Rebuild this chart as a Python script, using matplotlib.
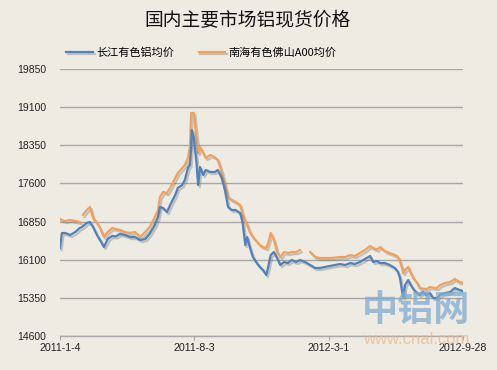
import numpy as np
import pandas as pd
import matplotlib
matplotlib.use("Agg")
import matplotlib.pyplot as plt
import matplotlib.patheffects as pe

plt.rcParams['font.family'] = ['Liberation Sans', 'Noto Sans CJK SC', 'DejaVu Sans']

# ---------------------------------------------------------
# DATA
# ---------------------------------------------------------
dates = [
    "2011-01-04", "2011-01-07", "2011-01-12", "2011-01-20", "2011-01-28", "2011-02-04",
    "2011-02-07", "2011-02-09", "2011-02-15", "2011-02-20", "2011-02-25", "2011-03-03",
    "2011-03-08", "2011-03-14", "2011-03-20", "2011-03-27", "2011-04-02", "2011-04-08",
    "2011-04-16", "2011-04-24", "2011-05-02", "2011-05-10", "2011-05-18", "2011-05-25",
    "2011-06-02", "2011-06-07", "2011-06-10", "2011-06-15", "2011-06-21", "2011-06-26",
    "2011-07-04", "2011-07-08", "2011-07-15", "2011-07-19", "2011-07-24", "2011-07-27",
    "2011-07-29", "2011-07-30", "2011-08-02", "2011-08-06", "2011-08-09", "2011-08-12",
    "2011-08-17", "2011-08-21", "2011-08-28", "2011-09-04", "2011-09-09", "2011-09-15",
    "2011-09-20", "2011-09-25", "2011-10-01", "2011-10-07", "2011-10-14", "2011-10-18",
    "2011-10-22", "2011-10-25", "2011-10-29", "2011-11-03", "2011-11-08", "2011-11-14",
    "2011-11-19", "2011-11-24", "2011-11-27", "2011-12-01", "2011-12-06", "2011-12-11",
    "2011-12-16", "2011-12-22", "2011-12-28", "2012-01-03", "2012-01-10", "2012-01-16",
    "2012-01-24", "2012-02-01", "2012-02-09", "2012-02-16", "2012-02-24", "2012-03-03",
    "2012-03-11", "2012-03-19", "2012-03-27", "2012-04-04", "2012-04-11", "2012-04-19",
    "2012-04-27", "2012-05-05", "2012-05-10", "2012-05-16", "2012-05-21", "2012-05-28",
    "2012-06-05", "2012-06-13", "2012-06-18", "2012-06-21", "2012-06-24", "2012-06-26",
    "2012-06-29", "2012-07-04", "2012-07-08", "2012-07-13", "2012-07-18", "2012-07-22",
    "2012-07-27", "2012-08-02", "2012-08-07", "2012-08-12", "2012-08-18", "2012-08-23",
    "2012-08-31", "2012-09-08", "2012-09-15", "2012-09-23", "2012-09-28",
]

changjiang = [
    16330, 16625, 16626, 16586, 16645, 16723,
    16740, 16760, 16822, 16841, 16743, 16586,
    16487, 16350, 16507, 16566, 16560, 16605,
    16586, 16546, 16546, 16487, 16507, 16610,
    16782, 16940, 17136, 17117, 17038, 17176,
    17372, 17510, 17569, 17667, 17903, 17962,
    18300, 18650, 18513, 18060, 17569, 17923,
    17766, 17864, 17825, 17825, 17864, 17707,
    17471, 17136, 17077, 17077, 17018, 16822,
    16389, 16546, 16350, 16153, 16055, 15956,
    15897, 15799, 15956, 16192, 16251, 16133,
    15996, 16055, 16035, 16094, 16055, 16094,
    16055, 15996, 15937, 15937, 15956, 15976,
    15996, 16015, 15996, 16035, 16015, 16055,
    16114, 16173, 16055, 16074, 16035, 16035,
    15996, 15937, 15858, 15740, 15504, 15366,
    15602, 15701, 15602, 15504, 15445, 15406,
    15465, 15406, 15445, 15347, 15347, 15406,
    15445, 15465, 15543, 15504, 15484,
]

nanhai = [
    16900, 16880, 16861, 16881, 16861, 16841,
    np.nan, 16979, 17077, 17136, 16920, 16822,
    16723, 16546, 16645, 16723, 16703, 16684,
    16645, 16625, 16645, 16546, 16645, 16743,
    16940, 17077, 17333, 17431, 17412, 17510,
    17707, 17805, 17903, 17962, 18100, 18316,
    18985, 18985, 18985, 18550, 18198, 18316,
    18198, 18100, 18159, 18119, 18060, 17825,
    17569, 17333, 17274, 17235, 17176, 16979,
    16861, 16782, 16645, 16546, 16470, 16389,
    16350, 16330, 16428, 16625, 16487, 16251,
    16153, 16251, 16232, 16251, 16251, 16291,
    np.nan, 16251, 16153, 16133, 16133, 16133,
    16140, 16153, 16153, 16192, 16173, 16232,
    16291, 16369, 16330, 16300, 16350, 16271,
    16232, 16192, 16153, 16055, 15950, 15838,
    15900, 15956, 15838, 15720, 15642, 15543,
    15530, 15524, 15563, 15550, 15543, 15602,
    15642, 15661, 15720, 15661, 15642,
]

series_names = ["长江有色铝均价", "南海有色佛山A00均价"]
series_colors = ["#4F81BD", "#F2A05A"]

y_ticks = [14600, 15350, 16100, 16850, 17600, 18350, 19100, 19850]
x_ticks = ["2011-01-04", "2011-08-03", "2012-03-01", "2012-09-28"]
x_tick_labels = ["2011-1-4", "2011-8-3", "2012-3-1", "2012-9-28"]

title = "国内主要市场铝现货价格"

# ---------------------------------------------------------
# PLOT
# ---------------------------------------------------------
bg = "#EEEBE2"
fig = plt.figure(figsize=(4.97, 3.70), dpi=100, facecolor=bg)
ax = fig.add_axes([60 / 497, 1 - 336 / 370, 403 / 497, 267 / 370])
ax.set_facecolor(bg)

x = pd.to_datetime(dates)
shadow = [pe.SimpleLineShadow(offset=(1.2, -1.5), shadow_color="#707070", alpha=0.35), pe.Normal()]

handles = []
for vals, name, col in [(nanhai, series_names[1], series_colors[1]),
                        (changjiang, series_names[0], series_colors[0])]:
    h, = ax.plot(x, vals, color=col, lw=1.6, label=name, path_effects=shadow)
    handles.append(h)

ax.set_ylim(y_ticks[0], y_ticks[-1])
ax.set_yticks(y_ticks)
ax.set_xlim(pd.Timestamp(x_ticks[0]), pd.Timestamp(x_ticks[-1]))
ax.set_xticks(pd.to_datetime(x_ticks))
ax.set_xticklabels(x_tick_labels)

ax.yaxis.grid(True, color="#A8A8A8", lw=1.0)
ax.set_axisbelow(True)
for side in ["left", "right", "top"]:
    ax.spines[side].set_visible(False)
ax.spines["bottom"].set_color("#A8A8A8")
ax.spines["bottom"].set_linewidth(1.0)
ax.tick_params(axis="y", length=0, pad=10, labelsize=7.5, labelcolor="#222222")
ax.tick_params(axis="x", length=3, color="#A8A8A8", pad=2, labelsize=7.7, labelcolor="#222222")

fig.text(0.498, 1 - 21 / 370, title, ha="center", va="center", fontsize=13.5,
         family=["Noto Sans CJK SC"], color="#111111")

fig.legend(handles[::-1], series_names, loc="center left",
           bbox_to_anchor=(62 / 497, 1 - 53 / 370), ncol=2, frameon=False,
           prop={"family": ["Noto Sans CJK SC", "DejaVu Sans"], "size": 8},
           handlelength=2.4, handletextpad=0.3, columnspacing=2.2, borderaxespad=0)

# watermark
fig.text(416 / 497, 1 - 311 / 370, "中铝网", ha="center", va="center", fontsize=26,
         fontweight="black", family=["Noto Sans CJK SC"], color="#80AAD0", alpha=0.75)
fig.text(416 / 497, 1 - 340 / 370, "www.cnal.com", ha="center", va="center", fontsize=12,
         color="#F0B68A", alpha=0.75)

fig.savefig("out.png", dpi=100, facecolor=bg)
